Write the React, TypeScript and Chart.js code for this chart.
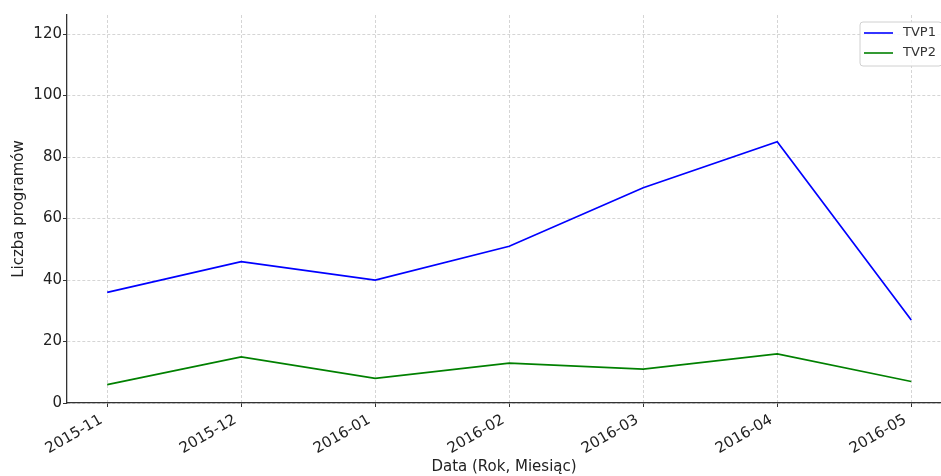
import React, { useEffect, useRef } from "react";
import { Chart, registerables } from "chart.js";

Chart.register(...registerables);

const categories = ["2015-11", "2015-12", "2016-01", "2016-02", "2016-03", "2016-04", "2016-05"];
const tvp1 = [36, 46, 40, 51, 70, 85, 27];
const tvp2 = [6, 15, 8, 13, 11, 16, 7];
const seriesNames = ["TVP1", "TVP2"];
const seriesColors = ["#0000ff", "#008000"];
const yTicks = [0, 20, 40, 60, 80, 100, 120];

const FONT = "'DejaVu Sans', sans-serif";

const legendPlugin = {
  id: "boxLegend",
  afterDraw(chart: any) {
    const ctx = chart.ctx;
    const x = 860, y = 22, w = 82, h = 44;
    ctx.save();
    ctx.beginPath();
    const r = 3;
    ctx.moveTo(x + r, y);
    ctx.lineTo(x + w - r, y);
    ctx.quadraticCurveTo(x + w, y, x + w, y + r);
    ctx.lineTo(x + w, y + h - r);
    ctx.quadraticCurveTo(x + w, y + h, x + w - r, y + h);
    ctx.lineTo(x + r, y + h);
    ctx.quadraticCurveTo(x, y + h, x, y + h - r);
    ctx.lineTo(x, y + r);
    ctx.quadraticCurveTo(x, y, x + r, y);
    ctx.closePath();
    ctx.fillStyle = "rgba(255,255,255,0.85)";
    ctx.fill();
    ctx.strokeStyle = "#d0d0d0";
    ctx.lineWidth = 1;
    ctx.stroke();
    chart.data.datasets.forEach((ds: any, i: number) => {
      const ly = y + 11 + i * 20;
      ctx.beginPath();
      ctx.strokeStyle = ds.borderColor;
      ctx.lineWidth = 1.6;
      ctx.moveTo(x + 4, ly);
      ctx.lineTo(x + 33, ly);
      ctx.stroke();
      ctx.fillStyle = "#333";
      ctx.font = `13px ${FONT}`;
      ctx.textBaseline = "middle";
      ctx.textAlign = "left";
      ctx.fillText(ds.label, x + 43, ly);
    });
    ctx.restore();
  },
};

export default function App() {
  const ref = useRef<HTMLCanvasElement>(null);
  useEffect(() => {
    document.body.style.margin = "0";
    const gridOpts = {
      color: "rgba(185,185,185,0.75)",
      lineWidth: 0.8,
      tickLength: 4,
      tickColor: "#333",
      tickWidth: 1,
      tickBorderDash: [],
    };
    const chart = new Chart(ref.current!, {
      type: "line",
      data: {
        datasets: [
          {
            label: seriesNames[0],
            data: tvp1.map((v, i) => ({ x: i, y: v })),
            borderColor: seriesColors[0],
            backgroundColor: seriesColors[0],
            borderWidth: 1.7,
            pointRadius: 0,
            tension: 0,
          },
          {
            label: seriesNames[1],
            data: tvp2.map((v, i) => ({ x: i, y: v })),
            borderColor: seriesColors[1],
            backgroundColor: seriesColors[1],
            borderWidth: 1.7,
            pointRadius: 0,
            tension: 0,
          },
        ],
      },
      options: {
        responsive: false,
        animation: false,
        layout: { padding: { top: 15, right: 0, left: 0, bottom: 0 } },
        plugins: { legend: { display: false }, tooltip: { enabled: false } },
        scales: {
          x: {
            type: "linear",
            min: -0.3,
            max: 6.222,
            afterFit(scale: any) {
              scale.height = 73;
            },
            afterBuildTicks(scale: any) {
              scale.ticks = categories.map((_, i) => ({ value: i }));
            },
            ticks: {
              includeBounds: false,
              stepSize: 1,
              autoSkip: false,
              maxRotation: 30,
              minRotation: 30,
              padding: 4,
              labelOffset: -6,
              color: "#222",
              font: { family: FONT, size: 15 },
              callback: (v: any) => categories[v] ?? "",
            },
            grid: gridOpts,
            border: { display: true, color: "#333", width: 1.3, dash: [3, 2] },
            title: {
              display: true,
              text: "Data (Rok, Miesiąc)",
              color: "#222",
              font: { family: FONT, size: 15 },
              padding: { top: 0, bottom: 0 },
            },
          },
          y: {
            min: 0,
            max: 126.2,
            afterFit(scale: any) {
              scale.width = 67;
            },
            afterBuildTicks(scale: any) {
              scale.ticks = yTicks.map((v) => ({ value: v }));
            },
            ticks: {
              includeBounds: false,
              stepSize: 20,
              padding: 1,
              color: "#222",
              font: { family: FONT, size: 15 },
            },
            grid: gridOpts,
            border: { display: true, color: "#333", width: 1.3, dash: [3, 2] },
            title: {
              display: true,
              text: "Liczba programów",
              color: "#222",
              font: { family: FONT, size: 15 },
              padding: { top: 10, bottom: 0 },
            },
          },
        },
      },
      plugins: [legendPlugin],
    } as any);
    return () => chart.destroy();
  }, []);
  return <canvas ref={ref} width={941} height={476} style={{ display: "block" }} />;
}
